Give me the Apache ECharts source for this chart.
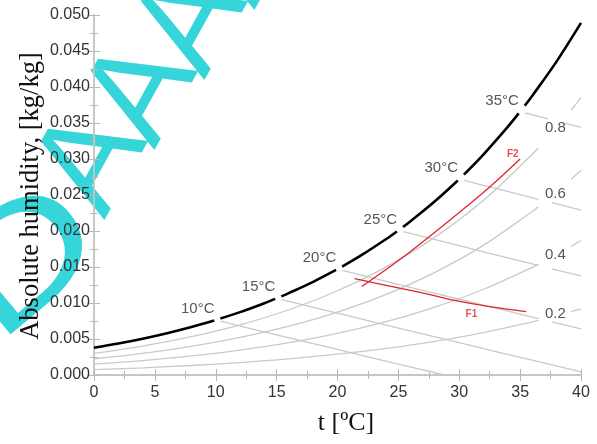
<!DOCTYPE html>
<html><head><meta charset="utf-8">
<script src="https://cdn.jsdelivr.net/npm/echarts@6/dist/echarts.min.js"></script>
<style>html,body{margin:0;padding:0;background:#fff}#c{width:597px;height:444px}</style>
</head><body><div id="c"></div>
<script>
// ---- data (temperature °C, absolute humidity kg/kg) ----
const satSegments = [
  [[0,0.003775],[2,0.004364],[4,0.005034],[6,0.005795],[8,0.006657],[9.88,0.00757]],
  [[10.38,0.007833],[12,0.008732],[14,0.009973],[14.88,0.010567]],
  [[15.38,0.010917],[16,0.011369],[18,0.012938],[19.88,0.014587]],
  [[20.38,0.015052],[22,0.016673],[24,0.018885],[24.88,0.019938]],
  [[25.38,0.020558],[26,0.021358],[28,0.024123],[29.88,0.027013]],
  [[30.38,0.027833],[32,0.030655],[34,0.034499],[34.88,0.03633]],
  [[35.38,0.0374],[36,0.038789],[38,0.04356],[40,0.048898]]
];
const rh02 = [
  [[0,0.000751],[4,0.001000],[8,0.001320],[12,0.001727],[16,0.002241],[20,0.002885],[24,0.003687],[28,0.004679],[32,0.005898],[36,0.007389],[36.5,0.007593]],
  [[39.2,0.008809],[40,0.009201]]
];
const rh04 = [
  [[0,0.001504],[4,0.002004],[8,0.002646],[12,0.003464],[16,0.004498],[20,0.005797],[24,0.007419],[28,0.009430],[32,0.011910],[36,0.014956],[36.5,0.015374]],
  [[39.2,0.017872],[40,0.018678]]
];
const rh06 = [
  [[0,0.002259],[4,0.003011],[8,0.003977],[12,0.005210],[16,0.006772],[20,0.008737],[24,0.011195],[28,0.014252],[32,0.018037],[36,0.022707],[36.5,0.02335]],
  [[39.2,0.027198],[40,0.028444]]
];
const rh08 = [
  [[0,0.003016],[4,0.004021],[8,0.005314],[12,0.006966],[16,0.009062],[20,0.011704],[24,0.015017],[28,0.019150],[32,0.024284],[36,0.030649],[36.5,0.031526]],
  [[39.2,0.036801],[40,0.038512]]
];
const wb10 = [[[10.4,0.00747],[15,0.00558],[20,0.003545],[25,0.001525],[28.8,0]]];
const wb15 = [[[15.4,0.010485],[20,0.008579],[25,0.006523],[30,0.004482],[35,0.002456],[40,0.000445]]];
const wb20 = [[[20.4,0.014531],[25,0.012602],[30,0.010521],[35,0.008455],[36.5,0.007838]],[[37.6,0.007387],[40,0.006405]]];
const wb25 = [[[25.4,0.019916],[30,0.017959],[35,0.015848],[36.5,0.015218]],[[37.6,0.014756],[40,0.013752]]];
const wb30 = [[[30.4,0.027036],[33,0.025909],[36.5,0.024399]],[[37.6,0.023926],[40,0.022897]]];
const wb35 = [[[35.4,0.03641],[37.3,0.035568]],[[38.7,0.03495],[40,0.034376]]];
const f1 = [[21.4,0.0134],[23,0.0128],[25,0.0121],[27.5,0.0112],[29.5,0.0104],[32.5,0.0095],[35.5,0.0088]];
const f2 = [[22.0,0.0123],[25.1,0.0160],[27.9,0.0197],[30.6,0.0234],[32.5,0.0261],[35.0,0.0300]];
const wbTemps = [10,15,20,25,30,35];
const wbSatW = [0.007632,0.010651,0.014699,0.020087,0.027210,0.036587];
const rhNames = ['0.2','0.4','0.6','0.8'];
const rhLabelT = 37.9;
const rhLabelW = [0.00847,0.01667,0.02514,0.0343];
const fNames = ['F1','F2'];
const fLabelPos = [[31.0,0.00843],[34.4,0.0307]];
const xTitle = 't [ºC]';
const yTitle = 'Absolute humidity, [kg/kg]';
const watermarkFirst = 'D';
const watermarkRest = ['A','A','A','A'];

// ---- build ----
const GRAY = '#c9c9c9';
const series = [];
function addLine(segs, color, width, z) {
  segs.forEach(s => series.push({
    type: 'line', data: s, showSymbol: false, smooth: 0.35,
    silent: true, z: z, lineStyle: {color: color, width: width}
  }));
}
[rh02, rh04, rh06, rh08, wb10, wb15, wb20, wb25, wb30, wb35].forEach(g => addLine(g, GRAY, 1.3, 2));
satSegments.forEach(s => series.push({
  type: 'line', data: s, showSymbol: false, smooth: 0.35, z: 4,
  lineStyle: {color: '#000', width: 2.6}
}));
series.push({type: 'line', data: f1, showSymbol: false, smooth: 0.35, z: 5, lineStyle: {color: '#e2232f', width: 1.3}});
series.push({type: 'line', data: f2, showSymbol: false, smooth: 0.35, z: 5, lineStyle: {color: '#e2232f', width: 1.3}});
const labelFont = {fontFamily: 'Liberation Sans, Arial, sans-serif', fontSize: 15, color: '#2a2a2a'};
series.push({
  type: 'scatter', symbolSize: 0, z: 6,
  data: wbTemps.map((t, i) => ({name: t + '°C', value: [t, wbSatW[i]]})),
  label: Object.assign({show: true, position: 'inside', offset: [-18, -11], formatter: '{b}'}, labelFont)
});
series.push({
  type: 'scatter', symbolSize: 0, z: 6,
  data: rhNames.map((n, i) => ({name: n, value: [rhLabelT, rhLabelW[i]]})),
  label: Object.assign({show: true, position: 'inside', formatter: '{b}'}, labelFont)
});
series.push({
  type: 'scatter', symbolSize: 0, z: 6,
  data: fNames.map((n, i) => ({name: n, value: fLabelPos[i]})),
  label: {show: true, position: 'inside', formatter: '{b}', color: '#e2232f', fontWeight: 'bold',
          fontSize: 10, fontFamily: 'Liberation Sans, Arial, sans-serif'}
});

const frame = {show: true, lineStyle: {color: '#c4c4c4', width: 1.5}};
const ticks = {show: true, inside: true, length: 6, lineStyle: {color: '#b8b8b8', width: 1}};
const minor = {show: true, splitNumber: 2, length: 4, lineStyle: {color: '#b8b8b8', width: 1}};
const axFont = {fontFamily: 'Liberation Sans, Arial, sans-serif', fontSize: 16, color: '#333'};

// watermark (decorative text stamp)
const deg = Math.PI / 180;
const WM = '#36d5d9';
const wmGraphics = [
  {type: 'text', x: 20, y: 372, rotation: 40 * deg, scaleX: 1.6, scaleY: 1.2, z: -1, silent: true,
   style: {text: watermarkFirst, font: '130px "Liberation Sans", Arial, sans-serif', fill: WM,
           align: 'left', verticalAlign: 'bottom'}}
];
watermarkRest.forEach((ch, i) => wmGraphics.push({
  type: 'text', x: 131 + 50 * i, y: 235 - 70 * i, rotation: 61 * deg, z: -1, silent: true,
  style: {text: ch, font: '136px "Liberation Sans", Arial, sans-serif', fill: WM,
          align: 'left', verticalAlign: 'bottom'}
}));

const option = {
  animation: false,
  grid: {left: 94, right: 16, top: 15, bottom: 69, containLabel: false},
  xAxis: [
    {type: 'value', min: 0, max: 40, interval: 5, position: 'bottom',
     axisLine: frame, axisTick: ticks, minorTick: minor, splitLine: {show: false},
     axisLabel: Object.assign({margin: 10}, axFont)},
    {type: 'value', min: 0, max: 40, interval: 5, position: 'top',
     axisLine: frame, axisTick: ticks, minorTick: minor, splitLine: {show: false},
     axisLabel: {show: false}}
  ],
  yAxis: [
    {type: 'value', min: 0, max: 0.05, interval: 0.005, position: 'left',
     axisLine: frame, axisTick: ticks, minorTick: minor, splitLine: {show: false},
     axisLabel: Object.assign({margin: 4, formatter: v => v.toFixed(3)}, axFont)},
    {type: 'value', min: 0, max: 0.05, interval: 0.005, position: 'right',
     axisLine: frame, axisTick: ticks, minorTick: minor, splitLine: {show: false},
     axisLabel: {show: false}}
  ],
  series: series,
  graphic: [
    {type: 'text', x: 346, y: 423, z: 10,
     style: {text: xTitle, font: '26px "Liberation Serif", "Times New Roman", serif', fill: '#111',
             align: 'center', verticalAlign: 'middle'}},
    {type: 'text', x: 31, y: 196, rotation: Math.PI / 2, z: 10,
     style: {text: yTitle, font: '26.5px "Liberation Serif", "Times New Roman", serif', fill: '#111',
             align: 'center', verticalAlign: 'middle'}}
  ].concat(wmGraphics)
};
const chart = echarts.init(document.getElementById('c'), null, {renderer: 'canvas'});
chart.setOption(option);
</script></body></html>
